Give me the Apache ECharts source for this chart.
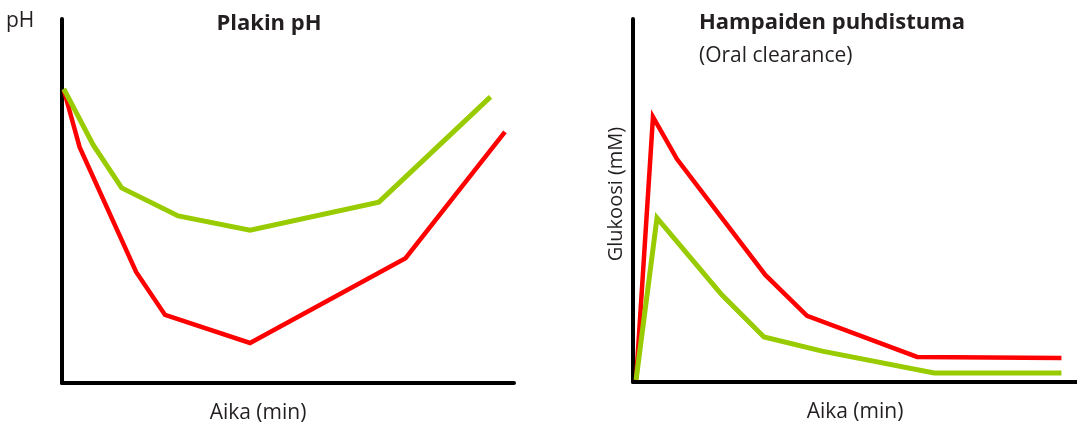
<!DOCTYPE html>
<html>
<head>
<meta charset="utf-8">
<script src="https://cdn.jsdelivr.net/npm/echarts@6/dist/echarts.min.js"></script>
<style>
html,body{margin:0;padding:0;background:#fff;}
#chart{width:1077px;height:425px;}
</style>
</head>
<body>
<div id="chart"></div>
<script>
// Left panel: Plakin pH (x: time, y: pH, arbitrary units 0-100)
const phRed = [[0.4,80.5],[3.9,64.8],[16.4,30.5],[22.8,18.7],[41.6,11.0],[76.0,34.3],[98.0,69.0]];
const phGreen = [[0.4,80.8],[6.9,65.4],[13.2,53.6],[25.7,45.9],[41.6,42.0],[70.1,49.7],[94.8,78.6]];
// Right panel: Hampaiden puhdistuma (x: time, y: glucose, arbitrary units 0-100)
const glcRed = [[0.7,0.6],[4.5,73.0],[9.9,61.4],[29.8,29.5],[39.2,18.2],[64.0,6.9],[96.5,6.6]];
const glcGreen = [[0.7,0.6],[5.4,45.2],[20.0,24.0],[29.5,12.4],[42.6,8.5],[67.8,2.5],[96.5,2.5]];

const RED = '#ff0000';
const GREEN = '#99cc00';
const TXT = '#231f20';
const FONT = '"Open Sans", Lato, sans-serif';
const REG = '21px ' + FONT;
const REG_S = '20px ' + FONT;
const BOLD = 'bold 22px ' + FONT;

function axisX(gi){
  return {gridIndex:gi,type:'value',min:0,max:100,
    axisLine:{show:true,lineStyle:{color:'#000',width:4}},
    axisTick:{show:false},axisLabel:{show:false},splitLine:{show:false}};
}
function axisY(gi){
  return {gridIndex:gi,type:'value',min:0,max:100,
    axisLine:{show:true,lineStyle:{color:'#000',width:4}},
    axisTick:{show:false},axisLabel:{show:false},splitLine:{show:false}};
}
function line(gi,data,color,w){
  return {type:'line',xAxisIndex:gi,yAxisIndex:gi,data:data,symbol:'none',
    lineStyle:{color:color,width:w,join:'miter'},silent:true,animation:false};
}
function txt(x,y,text,opts){
  return {type:'text',x:x,y:y,style:Object.assign({text:text,fill:TXT,
    font:REG,textAlign:'left',textVerticalAlign:'middle'},opts||{})};
}

const chart = echarts.init(document.getElementById('chart'),null,{renderer:'canvas'});
chart.setOption({
  animation:false,
  backgroundColor:'#fff',
  grid:[
    {left:62,top:19,width:452,height:364},
    {left:633,top:19,width:444,height:363}
  ],
  xAxis:[axisX(0),axisX(1)],
  yAxis:[axisY(0),axisY(1)],
  series:[
    line(0,phRed,RED,4.5),
    line(0,phGreen,GREEN,5),
    line(1,glcRed,RED,4.5),
    line(1,glcGreen,GREEN,5)
  ],
  graphic:[
    txt(6,21,'pH'),
    txt(269,24,'Plakin pH',{font:BOLD,textAlign:'center'}),
    txt(258,413,'Aika (min)',{textAlign:'center'}),
    txt(699,23,'Hampaiden puhdistuma',{font:BOLD}),
    txt(699,56,'(Oral clearance)'),
    txt(855,412,'Aika (min)',{textAlign:'center'}),
    {type:'text',x:616,y:194,rotation:Math.PI/2,
      style:{text:'Glukoosi (mM)',fill:TXT,font:REG_S,textAlign:'center',textVerticalAlign:'middle'}}
  ]
});
</script>
</body>
</html>
